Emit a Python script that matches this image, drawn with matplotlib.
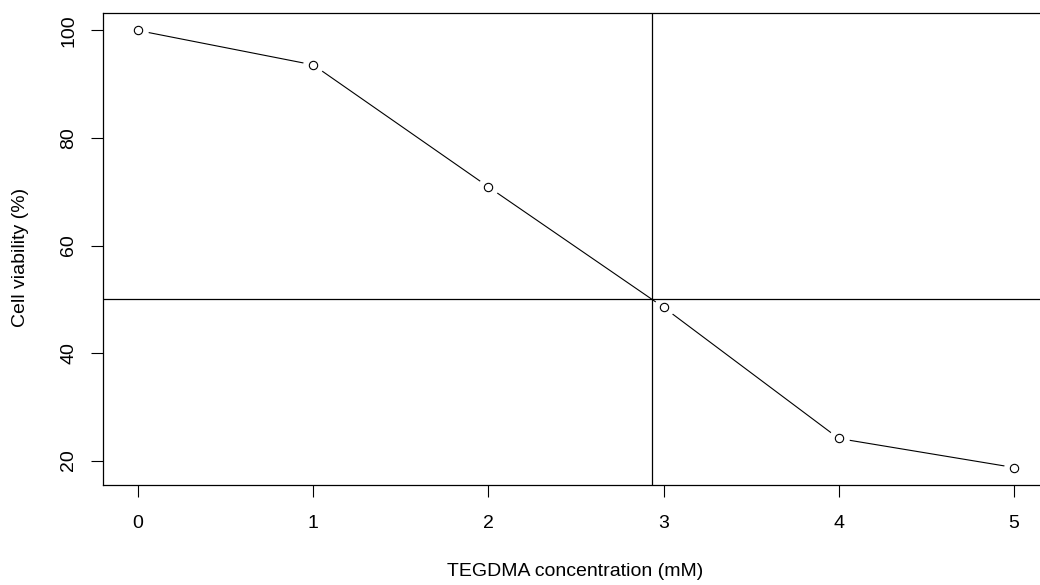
import numpy as np
import matplotlib
matplotlib.use("Agg")
import matplotlib.pyplot as plt

# TEGDMA dose-response data
conc_mM = [0, 1, 2, 3, 4, 5]
viability_pct = [100.0, 93.6, 70.9, 48.5, 24.1, 18.7]
half_level = 50

# concentration where viability drops to 50% (linear interpolation)
c = np.array(conc_mM, dtype=float)
v = np.array(viability_pct)
ic50 = np.interp(half_level, v[::-1], c[::-1])

plt.rcParams['font.family'] = ['Liberation Sans', 'DejaVu Sans']
fs = 14

fig = plt.figure(figsize=(10.4, 5.85), dpi=100)
ax = fig.add_axes([103 / 1040, 100 / 585, 946 / 1040, 472 / 585])

# R-style "b" plot: line with gaps around the open circles
ax.plot(conc_mM, viability_pct, color='black', lw=0.8, zorder=2)
ax.plot(conc_mM, viability_pct, 'o', ms=15, mfc='white', mec='none', zorder=3)
ax.plot(conc_mM, viability_pct, 'o', ms=6, mfc='white', mec='black', mew=0.8, zorder=4)

ax.axhline(half_level, color='black', lw=0.9, zorder=5)
ax.axvline(ic50, color='black', lw=0.9, zorder=5)

xr = c.max() - c.min()
yr = v.max() - v.min()
ax.set_xlim(c.min() - 0.04 * xr, c.max() + 0.04 * xr)
ax.set_ylim(v.min() - 0.04 * yr, v.max() + 0.04 * yr)

ax.set_xticks(conc_mM)
ax.set_yticks([20, 40, 60, 80, 100])
ax.tick_params(axis='both', direction='out', length=8.6, width=0.8, labelsize=fs)
ax.tick_params(axis='x', pad=13)
ax.tick_params(axis='y', pad=10, labelrotation=90)
for lbl in ax.get_yticklabels():
    lbl.set_va('center')

for s in ax.spines.values():
    s.set_linewidth(0.9)

fig.text(575 / 1040, 13 / 585, 'TEGDMA concentration (mM)', ha='center', va='center', fontsize=fs)
fig.text(21 / 1040, (585 - 257) / 585, 'Cell viability (%)', ha='center', va='center',
         rotation=90, fontsize=fs)

fig.savefig('out.png', dpi=100)
